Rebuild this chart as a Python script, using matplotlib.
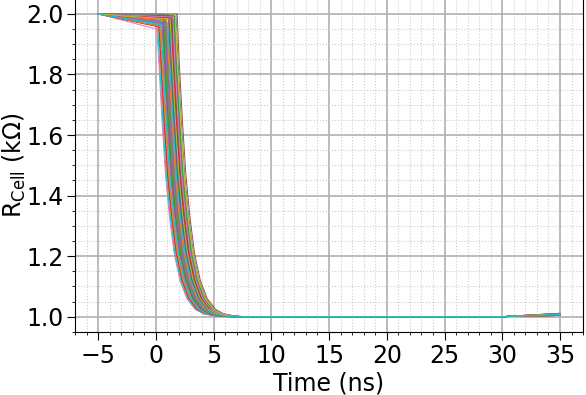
import matplotlib.pyplot as plt
import numpy as np
from matplotlib.ticker import MultipleLocator

# switching onset of each cell (ns) and level reached just before switching (kOhm)
onset = [0.75, 0.22, 1.36, 0.95, 0.51, 1.62, 0.08, 1.13, 0.67, 1.44,
         0.31, 0.88, 1.27, 0.58, 1.05, 1.85, 0.40, 0.80, 1.18, 0.15,
         1.52, 0.70, 0.98, 0.27, 1.30, 0.61, 1.08, 1.75, 0.47, 0.90,
         1.21, 0.36, 1.57, 0.83, 0.55, 1.40, 1.00, 0.72, 1.68, 0.44,
         1.15, 0.93, 0.64, 1.33, 0.78, 1.10, 1.48, 0.85, 1.24, 1.03]
sag = [1.970, 1.962, 1.985, 1.955, 1.975, 1.992, 1.950, 1.970, 1.998, 1.988,
       1.980, 1.967, 1.990, 1.972, 1.953, 2.000, 1.978, 1.965, 1.988, 1.960,
       1.982, 1.997, 1.970, 1.957, 1.993, 1.976, 1.985, 1.999, 1.968, 1.971,
       1.988, 1.959, 1.995, 1.980, 1.968, 1.991, 1.974, 1.997, 2.000, 1.966,
       1.994, 1.979, 1.999, 1.987, 1.973, 1.996, 1.990, 1.998, 1.983, 1.960]
r_end = [1.004, 1.008, 1.006, 1.010, 1.005, 1.009, 1.007, 1.011, 1.006, 1.008,
         1.005, 1.010, 1.007, 1.004, 1.009, 1.006, 1.011, 1.008, 1.005, 1.007,
         1.009, 1.006, 1.010, 1.004, 1.008, 1.007, 1.011, 1.005, 1.009, 1.006,
         1.008, 1.010, 1.005, 1.007, 1.009, 1.006, 1.011, 1.004, 1.008, 1.007,
         1.010, 1.005, 1.009, 1.006, 1.008, 1.011, 1.007, 1.005, 1.009, 1.008]

# shape of the falling edge after onset
dt_fall = [0.15, 0.45, 0.75, 1.1, 1.5, 2.0, 2.6, 3.3, 4.0, 5.0, 6.0]
r_fall = [1.86, 1.65, 1.47, 1.33, 1.21, 1.12, 1.06, 1.025, 1.01, 1.002, 1.0]

t_start, r_start = -5, 2.0
t_flat = 30

plt.rcParams['font.size'] = 17
fig = plt.figure(figsize=(5.86, 3.95), dpi=100)
ax = fig.add_axes([0.128, 0.16, 0.867, 0.843])

for t0, s, re in zip(onset, sag, r_end):
    t = [t_start, t0] + [t0 + d for d in dt_fall] + [t_flat, 35]
    r = [r_start, s] + r_fall + [1.0, re]
    ax.plot(t, r, lw=0.7)

ax.set_xlim(-7, 37)
ax.set_ylim(0.95, 2.05)
ax.xaxis.set_major_locator(MultipleLocator(5))
ax.xaxis.set_minor_locator(MultipleLocator(1))
ax.yaxis.set_major_locator(MultipleLocator(0.2))
ax.yaxis.set_minor_locator(MultipleLocator(0.05))
ax.tick_params(axis='y', which='major', length=6, pad=2)
ax.tick_params(axis='x', which='major', length=6, pad=3)
ax.grid(which='major', color='#b0b0b0', lw=1.2)
ax.grid(which='minor', color='#cccccc', lw=0.8, ls=':')
ax.set_axisbelow(True)
ax.set_xlabel('Time (ns)', labelpad=2)
ax.set_ylabel(r'R$_{\mathrm{Cell}}$ (kΩ)')
ax.yaxis.set_label_coords(-0.092, 0.5)

fig.savefig('out.png', dpi=100)
